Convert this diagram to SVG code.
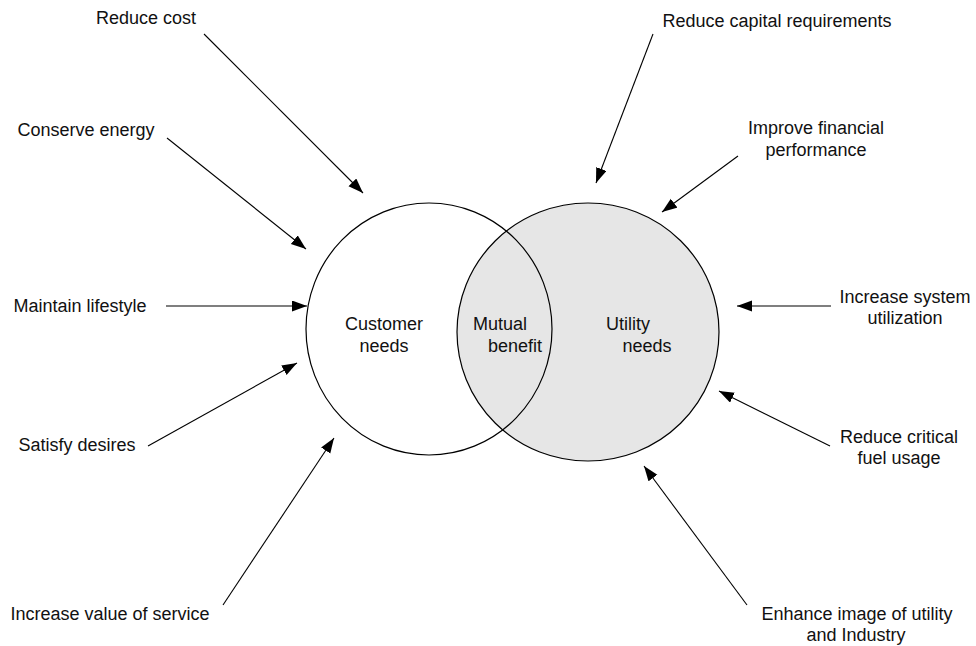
<svg xmlns="http://www.w3.org/2000/svg" width="976" height="646" viewBox="0 0 976 646">
<defs>
<marker id="ah" markerUnits="userSpaceOnUse" markerWidth="16" markerHeight="12" refX="15" refY="5.5" orient="auto">
<path d="M0,0 L15,5.5 L0,11 z" fill="#000"/>
</marker>
<style>
text{font-family:"Liberation Sans",Arial,Helvetica,sans-serif;font-size:18px;fill:#111}
.c{stroke:#000;stroke-width:1.2}
.a{stroke:#000;stroke-width:1.1;fill:none;marker-end:url(#ah)}
</style>
</defs>
<rect width="976" height="646" fill="#fff"/>
<g id="customer-fill"><ellipse cx="429" cy="329" rx="123" ry="126" fill="#fff" stroke="none"/></g>
<g id="utility"><ellipse class="c" cx="588" cy="332" rx="131" ry="129" fill="#e6e6e6"/></g>
<g id="customer"><ellipse class="c" cx="429" cy="329" rx="123" ry="126" fill="none"/></g>
<g id="labels-center">
<text x="384" y="330" text-anchor="middle">Customer</text>
<text x="384" y="352" text-anchor="middle">needs</text>
<text x="500" y="330" text-anchor="middle">Mutual</text>
<text x="515" y="352" text-anchor="middle">benefit</text>
<text x="628" y="330" text-anchor="middle">Utility</text>
<text x="647" y="352" text-anchor="middle">needs</text>
</g>
<g id="connectors">
<line class="a" x1="204" y1="34" x2="363" y2="193"/>
<line class="a" x1="167" y1="138" x2="306" y2="249"/>
<line class="a" x1="166" y1="306" x2="307" y2="306"/>
<line class="a" x1="148" y1="446" x2="297" y2="363"/>
<line class="a" x1="223" y1="605" x2="334" y2="438"/>
<line class="a" x1="653" y1="34" x2="596" y2="183"/>
<line class="a" x1="738" y1="156" x2="662" y2="212"/>
<line class="a" x1="831" y1="306" x2="737" y2="306"/>
<line class="a" x1="830" y1="446" x2="719" y2="391"/>
<line class="a" x1="747" y1="605" x2="644" y2="466"/>
</g>
<g id="n-reduce-cost"><text x="146" y="24" text-anchor="middle">Reduce cost</text></g>
<g id="n-conserve-energy"><text x="86" y="136" text-anchor="middle">Conserve energy</text></g>
<g id="n-maintain-lifestyle"><text x="80" y="312" text-anchor="middle">Maintain lifestyle</text></g>
<g id="n-satisfy-desires"><text x="77" y="451" text-anchor="middle">Satisfy desires</text></g>
<g id="n-increase-value"><text x="110" y="620" text-anchor="middle">Increase value of service</text></g>
<g id="n-reduce-capital"><text x="777" y="27" text-anchor="middle">Reduce capital requirements</text></g>
<g id="n-improve-financial"><text x="816" y="134" text-anchor="middle">Improve financial</text><text x="816" y="156" text-anchor="middle">performance</text></g>
<g id="n-increase-system"><text x="905" y="303" text-anchor="middle">Increase system</text><text x="905" y="324" text-anchor="middle">utilization</text></g>
<g id="n-reduce-critical"><text x="899" y="443" text-anchor="middle">Reduce critical</text><text x="899" y="464" text-anchor="middle">fuel usage</text></g>
<g id="n-enhance-image"><text x="857" y="620" text-anchor="middle">Enhance image of utility</text><text x="856" y="641" text-anchor="middle">and Industry</text></g>
</svg>
